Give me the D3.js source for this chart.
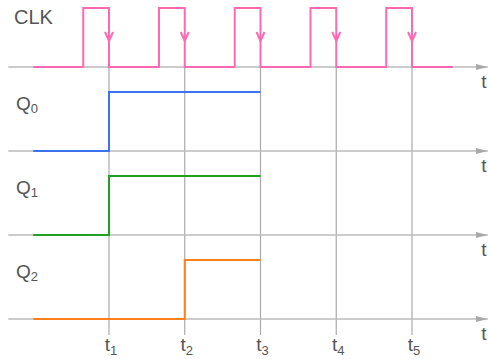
<!DOCTYPE html>
<html>
<head>
<meta charset="utf-8">
<title>Timing diagram</title>
<script src="https://d3js.org/d3.v7.min.js"></script>
<style>
  body { margin: 0; background: #fff; }
  text { font-family: "Liberation Sans", Arial, sans-serif; fill: #555; }
</style>
</head>
<body>
<div id="chart"></div>
<script>
// rows, top to bottom
var rows = ["CLK", "Q0", "Q1", "Q2"];
var rowNames = ["CLK", "Q", "Q", "Q"];
var rowSubs = ["", "0", "1", "2"];

// clock edges (time units, falling edges at t1..t5)
var clkTimes  = [0, 0.66, 1, 1.66, 2, 2.66, 3, 3.66, 4, 4.66, 5, 5.54];
var clkLevels = [0, 1,    0, 1,    0, 1,    0, 1,    0, 1,    0, 0];

var q0Times = [0, 1, 3];
var q0Levels = [0, 1, 1];
var q1Times = [0, 1, 3];
var q1Levels = [0, 1, 1];
var q2Times = [0, 2, 3];
var q2Levels = [0, 1, 1];

var tickTimes = [1, 2, 3, 4, 5];
var tickSubs = ["1", "2", "3", "4", "5"];

var width = 489, height = 359;

var svg = d3.select("#chart").append("svg")
  .attr("width", width)
  .attr("height", height);

// time scale
var x = d3.scaleLinear().domain([0, 5]).range([33.25, 412]);
// row baselines
var yRow = d3.scalePoint().domain(rows).range([67, 319]);
// signal level within a row
var yLevel = d3.scaleLinear().domain([0, 1]).range([0, -59]);

var signals = [
  { row: "CLK", t: clkTimes, v: clkLevels, color: "#ff69b4" },
  { row: "Q0", t: q0Times, v: q0Levels, color: "#3d72ee" },
  { row: "Q1", t: q1Times, v: q1Levels, color: "#22a022" },
  { row: "Q2", t: q2Times, v: q2Levels, color: "#ff7f1a" }
];

// vertical gridlines at t1..t5
svg.selectAll(".grid")
  .data(tickTimes)
  .enter().append("line")
    .attr("x1", function(d) { return x(d); })
    .attr("x2", function(d) { return x(d); })
    .attr("y1", yRow("CLK"))
    .attr("y2", 335)
    .attr("stroke", "#aaa")
    .attr("stroke-width", 1.2);

// arrowhead
svg.append("defs").append("marker")
    .attr("id", "arrow")
    .attr("viewBox", "0 0 12 8")
    .attr("refX", 12).attr("refY", 4)
    .attr("markerWidth", 12).attr("markerHeight", 8)
    .attr("markerUnits", "userSpaceOnUse")
    .attr("orient", "auto")
  .append("path")
    .attr("d", "M0,1 L12,4 L0,7 Z")
    .attr("fill", "#aaa");

// time axes for each row
svg.selectAll(".axis")
  .data(rows)
  .enter().append("line")
    .attr("x1", x(-0.33))
    .attr("x2", x(6))
    .attr("y1", function(d) { return yRow(d); })
    .attr("y2", function(d) { return yRow(d); })
    .attr("stroke", "#bbb")
    .attr("stroke-width", 1.5)
    .attr("marker-end", "url(#arrow)");

svg.selectAll(".tlabel")
  .data(rows)
  .enter().append("text")
    .attr("x", 484)
    .attr("y", function(d) { return yRow(d) + 21; })
    .attr("text-anchor", "middle")
    .style("font-size", "19px")
    .text("t");

// signals as step lines
signals.forEach(function(s) {
  var base = yRow(s.row);
  var line = d3.line()
    .x(function(d, i) { return x(s.t[i]); })
    .y(function(d, i) { return base + yLevel(s.v[i]); })
    .curve(d3.curveStepAfter);
  svg.append("path")
    .attr("d", line(s.t))
    .attr("fill", "none")
    .attr("stroke", s.color)
    .attr("stroke-width", 2);
});

// down arrows on the falling clock edges
svg.selectAll(".edge")
  .data(tickTimes)
  .enter().append("path")
    .attr("d", function(d) {
      var cx = x(d), cy = 41;
      return "M" + (cx - 4) + "," + (cy - 9) + "L" + cx + "," + cy + "L" + (cx + 4) + "," + (cy - 9);
    })
    .attr("fill", "none")
    .attr("stroke", "#ff69b4")
    .attr("stroke-width", 2);

// row labels
var lab = svg.selectAll(".rowlabel")
  .data(rows)
  .enter().append("text")
    .attr("x", function(d, i) { return i === 0 ? 14 : 16; })
    .attr("y", function(d, i) { return yRow(d) - (i === 0 ? 43 : 41); })
    .style("font-size", function(d, i) { return i === 0 ? "20px" : "19px"; });
lab.append("tspan").text(function(d, i) { return rowNames[i]; });
lab.append("tspan")
    .attr("dy", 3)
    .style("font-size", "13px")
    .text(function(d, i) { return rowSubs[i]; });

// tick labels under the last axis
var tl = svg.selectAll(".ticklabel")
  .data(tickTimes)
  .enter().append("text")
    .attr("x", function(d) { return x(d) + 2; })
    .attr("y", 351)
    .attr("text-anchor", "middle")
    .style("font-size", "19px");
tl.append("tspan").text("t");
tl.append("tspan")
    .attr("dy", 4)
    .style("font-size", "13px")
    .text(function(d, i) { return tickSubs[i]; });
</script>
</body>
</html>
